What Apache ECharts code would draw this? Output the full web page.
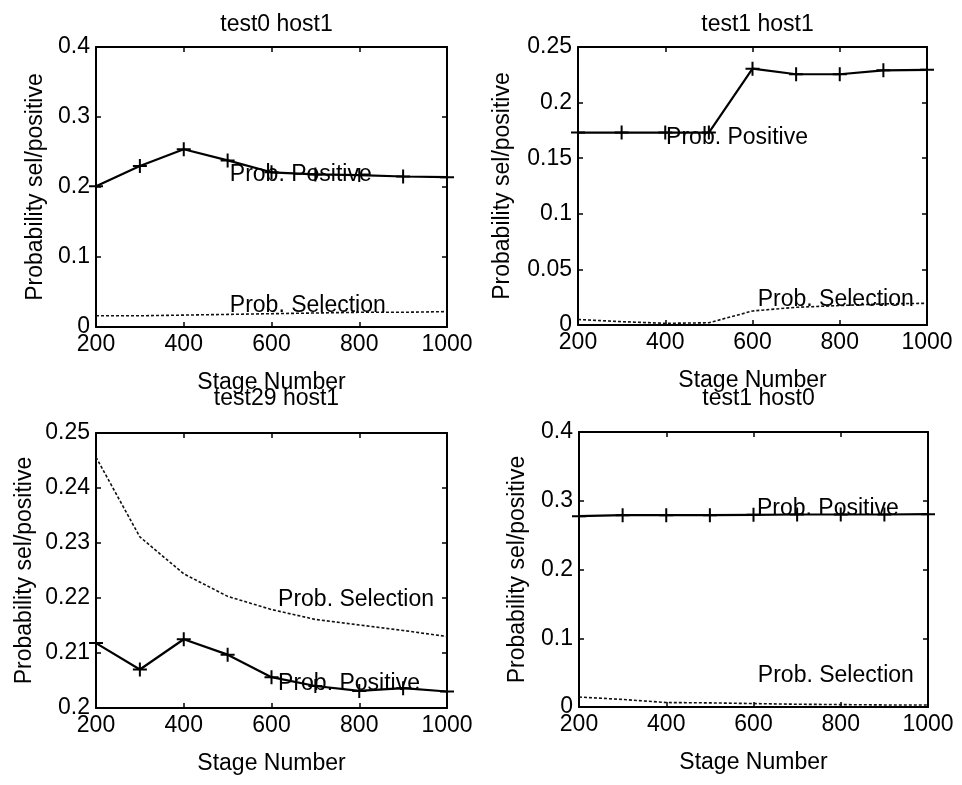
<!DOCTYPE html>
<html>
<head>
<meta charset="utf-8">
<script src="https://cdn.jsdelivr.net/npm/echarts@6/dist/echarts.min.js"></script>
<style>
  html, body { margin: 0; padding: 0; background: #ffffff; }
  #chart { width: 962px; height: 785px; }
</style>
</head>
<body>
<div id="chart"></div>
<script>
// stage numbers shared by all four panels
const stages = [200, 300, 400, 500, 600, 700, 800, 900, 1000];

const titles = ['test0 host1', 'test1 host1', 'test29 host1', 'test1 host0'];

// Prob. Positive (solid, + markers)
const positiveTest0Host1 = [0.201, 0.230, 0.254, 0.238, 0.221, 0.218, 0.217, 0.215, 0.214];
const positiveTest1Host1 = [0.173, 0.173, 0.173, 0.173, 0.2305, 0.2255, 0.2255, 0.229, 0.2295];
const positiveTest29Host1 = [0.2118, 0.2070, 0.2125, 0.2097, 0.2056, 0.2040, 0.2031, 0.2036, 0.2030];
const positiveTest1Host0 = [0.2775, 0.279, 0.279, 0.279, 0.2795, 0.28, 0.28, 0.28, 0.2805];

// Prob. Selection (dashed)
const selectionTest0Host1 = [0.016, 0.016, 0.017, 0.018, 0.019, 0.020, 0.021, 0.021, 0.022];
const selectionTest1Host1 = [0.005, 0.003, 0.0015, 0.002, 0.0126, 0.0159, 0.0175, 0.019, 0.0195];
const selectionTest29Host1 = [0.2456, 0.2311, 0.2244, 0.2203, 0.2179, 0.2161, 0.2151, 0.2141, 0.2130];
const selectionTest1Host0 = [0.0145, 0.011, 0.0065, 0.006, 0.005, 0.004, 0.0035, 0.003, 0.003];

// y axis ranges: [min, max, interval]
const yRanges = [[0, 0.4, 0.1], [0, 0.25, 0.05], [0.2, 0.25, 0.01], [0, 0.4, 0.1]];
// x axis range
const xRange = [200, 1000, 200];

// where the curve names sit, in data coordinates
const positiveLabelAt = [[505, 0.218], [402, 0.1686], [615, 0.2045], [608, 0.2885]];
const selectionLabelAt = [[505, 0.030], [612, 0.0225], [615, 0.2197], [610, 0.046]];

const positives = [positiveTest0Host1, positiveTest1Host1, positiveTest29Host1, positiveTest1Host0];
const selections = [selectionTest0Host1, selectionTest1Host1, selectionTest29Host1, selectionTest1Host0];

const FONT = 'Liberation Sans, Arial, Helvetica, sans-serif';
const FS = 23;

const grids = [
  { left: 96, top: 47, width: 351, height: 280 },
  { left: 578, top: 47, width: 349, height: 278 },
  { left: 96, top: 433, width: 351, height: 275 },
  { left: 579, top: 432, width: 349, height: 275 }
];
const titleTops = [8, 8, 382, 382];
const yNameGaps = [49, 64, 60, 50];

const plus = 'path://M5,0L5,10M0,5L10,5';
const lineStyle = { color: '#000', width: 2 };
const tickStyle = { show: true, inside: true, length: 5, lineStyle: { color: '#000', width: 1.5 } };
const fmt = (v) => String(+v.toFixed(4));

const pairs = (ys) => stages.map((s, i) => [s, ys[i]]);

const option = {
  animation: false,
  backgroundColor: '#ffffff',
  textStyle: { fontFamily: FONT, color: '#000' },
  title: grids.map((g, i) => ({
    text: titles[i],
    left: g.left + g.width / 2,
    top: titleTops[i],
    textAlign: 'center',
    textStyle: { fontFamily: FONT, fontSize: FS, fontWeight: 'normal', color: '#000' }
  })),
  grid: grids.map((g) => ({ ...g, containLabel: false })),
  xAxis: [],
  yAxis: [],
  series: []
};

grids.forEach((g, i) => {
  const [ymin, ymax, yint] = yRanges[i];
  // bottom axis with labels
  option.xAxis.push({
    type: 'value', gridIndex: i, position: 'bottom',
    min: xRange[0], max: xRange[1], interval: xRange[2],
    name: 'Stage Number', nameLocation: 'middle', nameGap: 44,
    nameTextStyle: { fontFamily: FONT, fontSize: FS, color: '#000' },
    axisLine: { show: true, onZero: false, lineStyle },
    axisTick: tickStyle,
    axisLabel: { fontFamily: FONT, fontSize: FS, color: '#000', margin: 6, formatter: fmt },
    splitLine: { show: false }
  });
  // top edge of the box
  option.xAxis.push({
    type: 'value', gridIndex: i, position: 'top',
    min: xRange[0], max: xRange[1], interval: xRange[2],
    axisLine: { show: true, onZero: false, lineStyle },
    axisTick: tickStyle,
    axisLabel: { show: false },
    splitLine: { show: false }
  });
  option.yAxis.push({
    type: 'value', gridIndex: i, position: 'left',
    min: ymin, max: ymax, interval: yint,
    name: 'Probability sel/positive', nameLocation: 'middle', nameGap: yNameGaps[i],
    nameTextStyle: { fontFamily: FONT, fontSize: FS, color: '#000' },
    axisLine: { show: true, onZero: false, lineStyle },
    axisTick: tickStyle,
    axisLabel: { fontFamily: FONT, fontSize: FS, color: '#000', margin: 6, formatter: fmt },
    splitLine: { show: false }
  });
  // right edge of the box
  option.yAxis.push({
    type: 'value', gridIndex: i, position: 'right',
    min: ymin, max: ymax, interval: yint,
    axisLine: { show: true, onZero: false, lineStyle },
    axisTick: tickStyle,
    axisLabel: { show: false },
    splitLine: { show: false }
  });

  const labelStyle = {
    show: true, position: 'right', distance: 0, formatter: '{b}',
    fontFamily: FONT, fontSize: FS, color: '#000'
  };

  option.series.push({
    name: 'Prob. Positive',
    type: 'line',
    xAxisIndex: i * 2, yAxisIndex: i * 2,
    data: pairs(positives[i]),
    symbol: plus, symbolSize: 14, showAllSymbol: true,
    itemStyle: { color: 'rgba(0,0,0,0)', borderColor: '#000', borderWidth: 2 },
    lineStyle: { color: '#000', width: 2.2 },
    clip: false,
    silent: true,
    markPoint: {
      symbol: 'circle', symbolSize: 0, silent: true,
      label: labelStyle,
      data: [{ name: 'Prob. Positive', coord: positiveLabelAt[i] }]
    }
  });
  option.series.push({
    name: 'Prob. Selection',
    type: 'line',
    xAxisIndex: i * 2, yAxisIndex: i * 2,
    data: pairs(selections[i]),
    symbol: 'none',
    lineStyle: { color: '#111', width: 1.6, type: [3, 2] },
    silent: true,
    markPoint: {
      symbol: 'circle', symbolSize: 0, silent: true,
      label: labelStyle,
      data: [{ name: 'Prob. Selection', coord: selectionLabelAt[i] }]
    }
  });
});

const chart = echarts.init(document.getElementById('chart'), null, { renderer: 'canvas' });
chart.setOption(option);
</script>
</body>
</html>
